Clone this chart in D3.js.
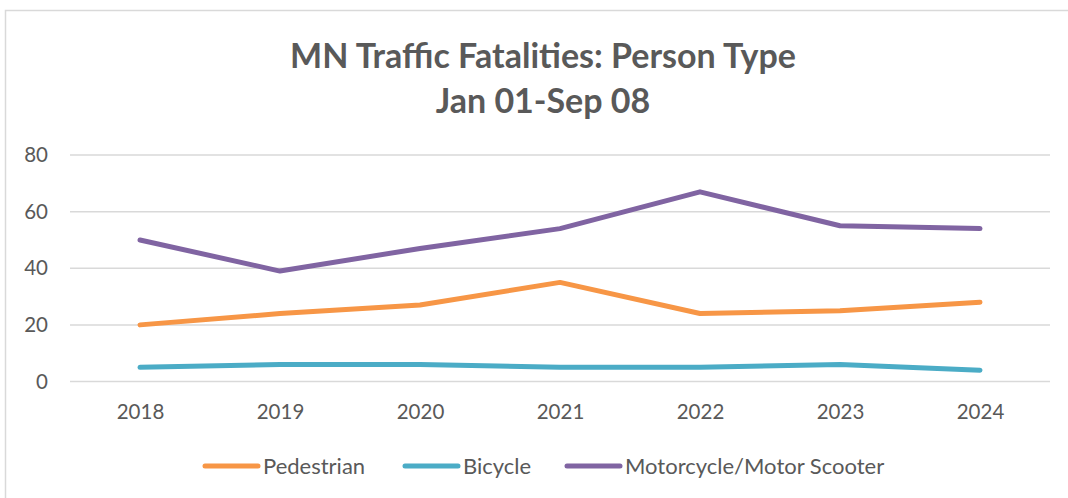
<!DOCTYPE html>
<html>
<head>
<meta charset="utf-8">
<script src="https://cdn.jsdelivr.net/npm/d3@7"></script>
<style>
  body { margin: 0; background: #fff; }
  svg text { font-family: Lato, "Open Sans", sans-serif; fill: #595959; }
</style>
</head>
<body>
<div id="chart"></div>
<script>
const years = ["2018", "2019", "2020", "2021", "2022", "2023", "2024"];
const pedestrian = [20, 24, 27, 35, 24, 25, 28];
const bicycle = [5, 6, 6, 5, 5, 6, 4];
const motorcycle = [50, 39, 47, 54, 67, 55, 54];
const yTicks = [0, 20, 40, 60, 80];
const titleLines = ["MN Traffic Fatalities: Person Type", "Jan 01-Sep 08"];

const series = [
    {name: "Pedestrian", values: pedestrian, color: "#F79646"},
    {name: "Bicycle", values: bicycle, color: "#4BACC6"},
    {name: "Motorcycle/Motor Scooter", values: motorcycle, color: "#8064A2"}
];

const width = 1068, height = 498;
const margin = {top: 155, right: 18, bottom: 116, left: 70};

const svg = d3.select("#chart").append("svg")
    .attr("width", width)
    .attr("height", height);

// chart area border (cut off at right and bottom like the source)
svg.append("rect")
    .attr("x", 5.5).attr("y", 10.5)
    .attr("width", width + 20).attr("height", height + 20)
    .attr("fill", "none")
    .attr("stroke", "#D9D9D9")
    .attr("stroke-width", 1.5);

const x = d3.scalePoint()
    .domain(years)
    .range([margin.left, width - margin.right])
    .padding(0.5);

const y = d3.scaleLinear()
    .domain([0, 80])
    .range([381.5, margin.top]);

// title
svg.append("g").selectAll("text")
    .data(titleLines)
    .join("text")
    .attr("x", 543)
    .attr("y", (d, i) => 68 + i * 45)
    .attr("text-anchor", "middle")
    .attr("font-size", 34)
    .attr("font-weight", "bold")
    .text(d => d);

// gridlines
svg.append("g")
    .attr("stroke", "#D9D9D9")
    .attr("stroke-width", 1.5)
    .selectAll("line")
    .data(yTicks)
    .join("line")
    .attr("x1", margin.left)
    .attr("x2", width - margin.right)
    .attr("y1", d => y(d))
    .attr("y2", d => y(d));

const yAxis = svg.append("g")
    .attr("transform", `translate(${margin.left - 22},0)`)
    .call(d3.axisLeft(y).tickValues(yTicks).tickSize(0).tickPadding(0));
yAxis.select(".domain").remove();
yAxis.selectAll("text").attr("font-size", 20.5).attr("fill", "#595959");

const xAxis = svg.append("g")
    .attr("transform", `translate(0,${y(0) + 23})`)
    .call(d3.axisBottom(x).tickSize(0).tickPadding(0));
xAxis.select(".domain").remove();
xAxis.selectAll("text").attr("font-size", 20.5).attr("fill", "#595959").attr("dy", "0.71em");

const line = d3.line()
    .x((d, i) => x(years[i]))
    .y(d => y(d));

svg.append("g")
    .selectAll("path")
    .data(series)
    .join("path")
    .attr("d", d => line(d.values))
    .attr("fill", "none")
    .attr("stroke", d => d.color)
    .attr("stroke-width", 5)
    .attr("stroke-linecap", "round")
    .attr("stroke-linejoin", "round");

// legend
const legendX = [205, 405, 567];
const legend = svg.append("g")
    .selectAll("g")
    .data(series)
    .join("g")
    .attr("transform", (d, i) => `translate(${legendX[i]},466)`);

legend.append("line")
    .attr("x1", 0).attr("x2", 53)
    .attr("stroke", d => d.color)
    .attr("stroke-width", 5)
    .attr("stroke-linecap", "round");

legend.append("text")
    .attr("x", 58)
    .attr("dy", "0.35em")
    .attr("font-size", 22)
    .text(d => d.name);
</script>
</body>
</html>
